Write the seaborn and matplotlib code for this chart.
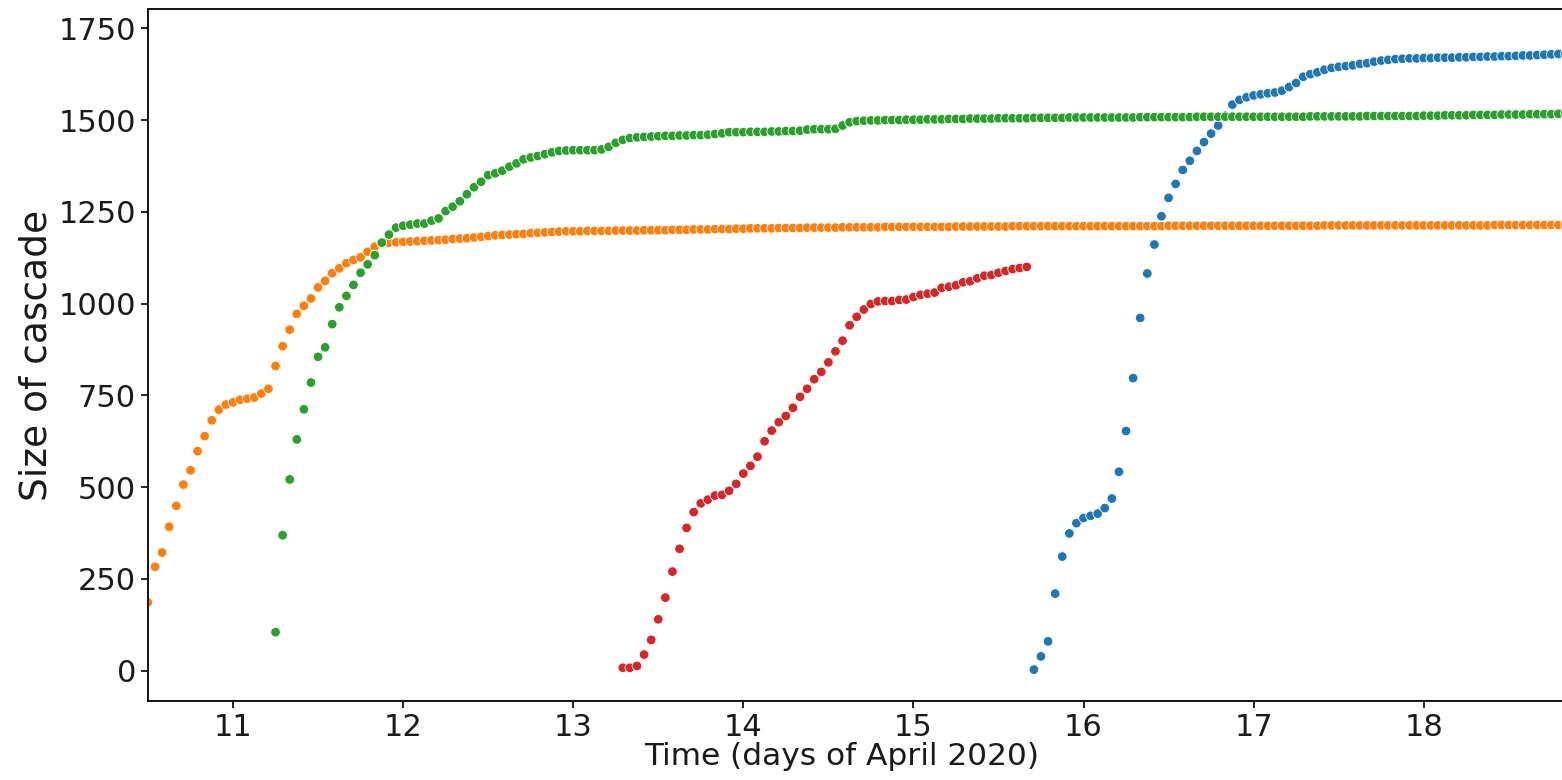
import numpy as np
import pandas as pd
import matplotlib
matplotlib.use("Agg")
import matplotlib.pyplot as plt
import seaborn as sns

# ---------------- data (hourly samples, days of April 2020) ----------------
series_names = ["Cascade A", "Cascade B", "Cascade C", "Cascade D"]
series_colors = ["#1f77b4", "#ff7f0e", "#2ca02c", "#d62728"]
start_days = [15 + 17 / 24, 10.5, 11.25, 13 + 7 / 24]   # first sample of each cascade
step_hours = 1.0

blue_sizes = [
    3, 39, 80, 210, 311, 374, 402, 416, 422, 428, 443, 469, 542, 653, 797, 961,
    1082, 1161, 1238, 1288, 1326, 1364, 1389, 1416, 1440, 1463, 1485, 1512, 1542,
    1555, 1562, 1567, 1570, 1573, 1575, 1580, 1590, 1601, 1618, 1625, 1630, 1637,
    1642, 1645, 1647, 1649, 1653, 1655, 1659, 1662, 1664, 1666, 1667,
    1668, 1668, 1669, 1669, 1670, 1670, 1670, 1671, 1671, 1672, 1672, 1673, 1673,
    1674, 1674, 1675, 1676, 1676, 1677, 1678, 1679, 1680, 1680,
]

orange_sizes = [
    186, 283, 322, 392, 449, 507, 546, 598, 639, 682, 711, 725, 731, 738, 741, 744,
    755, 768, 830, 884, 929, 972, 994, 1014, 1044, 1062, 1083, 1096, 1110, 1119,
    1126, 1141, 1155, 1164, 1166, 1167, 1168,
    1169, 1170, 1171, 1172, 1173, 1174, 1176, 1177, 1178, 1180, 1182,
    1184, 1186, 1187, 1188, 1189, 1190, 1192, 1193, 1194, 1195, 1196, 1197,
    1197, 1197, 1198, 1198, 1198, 1198, 1199, 1199, 1199, 1199, 1200, 1200,
    1200, 1200, 1201, 1201, 1201, 1202, 1202, 1202, 1203, 1203, 1203, 1204,
    1204, 1205, 1205, 1205, 1205, 1206, 1206, 1206, 1206, 1207, 1207, 1207,
    1207, 1207, 1208, 1208, 1208, 1208, 1208, 1208, 1209, 1209, 1209, 1209,
    1209, 1209, 1209, 1209, 1209, 1209, 1210, 1210, 1210, 1210, 1210, 1210,
    1210, 1210, 1211, 1211, 1211, 1211, 1211, 1211, 1211, 1211, 1211, 1211,
    1211, 1211, 1211, 1211, 1211, 1211, 1211, 1211, 1211, 1211, 1211, 1211,
    1212, 1212, 1212, 1212, 1212, 1212, 1212, 1212, 1212, 1212, 1212, 1212,
    1212, 1212, 1212, 1212, 1212, 1212, 1212, 1212, 1212, 1212, 1213, 1213,
    1213, 1213, 1213, 1213, 1213, 1213, 1213, 1213, 1213, 1213, 1213, 1213,
    1213, 1213, 1213, 1213, 1213, 1213, 1213, 1213, 1213, 1213, 1214, 1214,
    1214, 1214, 1214, 1214, 1214, 1214, 1214, 1214, 1215,
]

green_sizes = [
    105, 369, 521, 630, 712, 785, 855, 881, 944, 990, 1021, 1051,
    1084, 1107, 1132, 1166, 1188, 1207, 1212, 1215, 1218, 1218, 1226, 1232,
    1252, 1264, 1279, 1298, 1317, 1332, 1350, 1355, 1362, 1373, 1382, 1393,
    1398, 1402, 1407, 1412, 1416, 1417, 1418, 1418, 1418, 1418, 1420, 1427,
    1438, 1446, 1451,
    1453, 1454, 1455, 1456, 1457, 1457, 1458,
    1458, 1459, 1459, 1460, 1462, 1464, 1467, 1467, 1467,
    1468, 1468, 1468, 1469, 1469, 1470, 1470, 1471, 1474, 1475, 1475, 1475, 1476,
    1485, 1494, 1497, 1498, 1499, 1499, 1500, 1500, 1500, 1501,
    1501, 1501, 1502, 1502, 1502, 1503, 1503, 1503, 1504, 1504, 1504, 1504,
    1505, 1505, 1505, 1505, 1505, 1506, 1506, 1506, 1506, 1506, 1507, 1507,
    1507, 1507, 1507, 1507, 1507, 1507, 1507, 1507, 1508, 1508, 1508, 1508,
    1508, 1508, 1508, 1508, 1509, 1509, 1509, 1509, 1509, 1509, 1509, 1509,
    1509, 1509, 1509, 1509, 1509, 1509, 1509, 1509, 1510, 1510, 1510, 1510,
    1510, 1510, 1510, 1510, 1511, 1511, 1511, 1511, 1511, 1511, 1511, 1511,
    1512, 1512, 1512, 1513, 1513, 1513, 1513, 1514, 1514, 1514, 1514, 1515,
    1515, 1515, 1515, 1516, 1516, 1516, 1516, 1517, 1517,
]

red_sizes = [
    8, 8, 13, 44, 84, 140, 199, 270, 332, 389,
    432, 456, 466, 477, 479, 490, 509, 537, 558, 583,
    625, 654, 677, 694, 716, 746, 768, 794, 814, 840,
    870, 899, 941, 964, 984, 999, 1006, 1007, 1007, 1010,
    1011, 1018, 1024, 1027, 1030, 1043, 1046, 1050, 1058, 1061,
    1069, 1076, 1078, 1084, 1089, 1094, 1097, 1100,
]

y_ticks = [0, 250, 500, 750, 1000, 1250, 1500, 1750]
x_ticks = [11, 12, 13, 14, 15, 16, 17, 18]
x_label = "Time (days of April 2020)"
y_label = "Size of cascade"

# ---------------- build long table ----------------
frames = []
for name, start, sizes in zip(series_names, start_days,
                              [blue_sizes, orange_sizes, green_sizes, red_sizes]):
    t = start + np.arange(len(sizes)) * step_hours / 24.0
    frames.append(pd.DataFrame({"cascade": name, "time": t, "size": sizes}))
df = pd.concat(frames, ignore_index=True)

# ---------------- plot ----------------
sns.set_style("white")
plt.rcParams["font.family"] = ["DejaVu Sans"]

W, H, DPI = 1562, 780, 100
fig = plt.figure(figsize=(W / DPI, H / DPI), dpi=DPI)
ax = fig.add_axes([147.7 / W, 79 / H, (W - 147.7) / W, (701 - 9) / H])

sns.scatterplot(data=df, x="time", y="size", hue="cascade",
                hue_order=series_names, palette=series_colors,
                s=48, edgecolor="white", linewidth=0.6, legend=False, ax=ax)

ax.set_xlim(10.4985, 18.813)
ax.set_ylim(-82.5, 1802.5)
ax.set_xticks(x_ticks)
ax.set_yticks(y_ticks)
ax.tick_params(axis="both", labelsize=22, length=5, width=1.2,
               color="black", labelcolor="#1a1a1a", direction="out",
               bottom=True, left=True)
ax.set_xlabel(x_label, fontsize=22.5, labelpad=0, color="#1a1a1a")
ax.xaxis.label.set_x(0.491)
ax.set_ylabel(y_label, fontsize=27, labelpad=3, color="#1a1a1a")

for side in ["left", "bottom", "top"]:
    ax.spines[side].set_visible(True)
    ax.spines[side].set_color("black")
    ax.spines[side].set_linewidth(1.3)
ax.spines["right"].set_visible(False)

fig.savefig("out.png", dpi=DPI)
